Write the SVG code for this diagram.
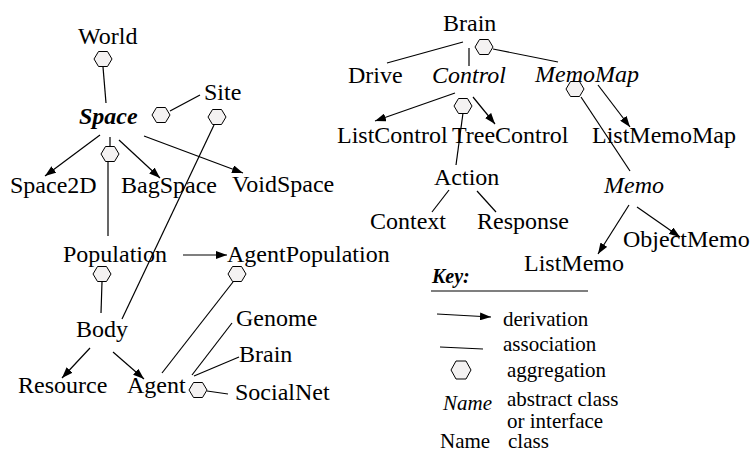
<svg xmlns="http://www.w3.org/2000/svg" xmlns:xlink="http://www.w3.org/1999/xlink" width="756" height="453" viewBox="0 0 756 453" font-family="'Liberation Serif', 'DejaVu Serif', serif">
<style>
text{font-family:'Liberation Serif','DejaVu Serif',serif;font-size:24px;fill:#000}
.it{font-style:italic}
.bi{font-style:italic;font-weight:bold}
.lg{font-size:21px}
.ln{stroke:#000;stroke-width:1.2;fill:none}
.ar{stroke:#000;stroke-width:1.2;fill:none;marker-end:url(#ah)}
.hx{fill:#f4f2f2;stroke:#000;stroke-width:1}
</style>
<defs>
<marker id="ah" markerUnits="userSpaceOnUse" markerWidth="12" markerHeight="8" refX="11" refY="4" orient="auto"><path d="M0,0 L11,4 L0,8 z" fill="#000"/></marker>
<polygon id="hex" points="-9,0 -4.5,-7.5 4.5,-7.5 9,0 4.5,7.5 -4.5,7.5"/>
</defs>
<g id="connectors">
<use xlink:href="#hex" class="hx" x="103" y="59"/>
<line class="ln" x1="103" y1="67" x2="106" y2="103"/>
<use xlink:href="#hex" class="hx" x="161" y="115"/>
<line class="ln" x1="170" y1="111" x2="200" y2="95"/>
<use xlink:href="#hex" class="hx" x="217" y="117"/>
<line class="ln" x1="214" y1="125" x2="122" y2="319"/>
<line class="ar" x1="100" y1="135" x2="45" y2="176"/>
<line class="ar" x1="119" y1="140" x2="160" y2="178"/>
<line class="ar" x1="144" y1="136" x2="243" y2="173"/>
<line class="ln" x1="110" y1="137" x2="110" y2="146"/>
<use xlink:href="#hex" class="hx" x="110" y="154"/>
<line class="ln" x1="108" y1="162" x2="108" y2="236"/>
<line class="ar" x1="183" y1="255" x2="227" y2="255"/>
<use xlink:href="#hex" class="hx" x="102" y="274"/>
<line class="ln" x1="102" y1="282" x2="101" y2="313"/>
<use xlink:href="#hex" class="hx" x="237" y="274"/>
<line class="ln" x1="233" y1="282" x2="162" y2="373"/>
<line class="ar" x1="90" y1="348" x2="62" y2="378"/>
<line class="ar" x1="113" y1="352" x2="144" y2="379"/>
<use xlink:href="#hex" class="hx" x="198" y="390"/>
<line class="ln" x1="207" y1="391" x2="228" y2="394"/>
<line class="ln" x1="192" y1="375" x2="232" y2="323"/>
<line class="ln" x1="194" y1="376" x2="239" y2="357"/>
<use xlink:href="#hex" class="hx" x="484" y="47"/>
<line class="ln" x1="493" y1="49" x2="558" y2="62"/>
<line class="ln" x1="463" y1="42" x2="387" y2="63"/>
<line class="ln" x1="469" y1="48" x2="469" y2="66"/>
<use xlink:href="#hex" class="hx" x="575" y="89"/>
<line class="ln" x1="581" y1="97" x2="630" y2="171"/>
<line class="ar" x1="598" y1="85" x2="630" y2="127"/>
<line class="ar" x1="455" y1="93" x2="375" y2="121"/>
<line class="ar" x1="473" y1="97" x2="495" y2="124"/>
<use xlink:href="#hex" class="hx" x="463" y="106"/>
<line class="ln" x1="463" y1="113" x2="456" y2="165"/>
<line class="ln" x1="449" y1="190" x2="432" y2="212"/>
<line class="ln" x1="477" y1="191" x2="496" y2="212"/>
<line class="ar" x1="629" y1="205" x2="598" y2="254"/>
<line class="ar" x1="637" y1="207" x2="680" y2="237"/>
</g>
<g id="n-world"><text x="78" y="44">World</text></g>
<g id="n-space"><text class="bi" x="79" y="124">Space</text></g>
<g id="n-site"><text x="204" y="100">Site</text></g>
<g id="n-space2d"><text x="10" y="193">Space2D</text></g>
<g id="n-bagspace"><text x="121" y="193">BagSpace</text></g>
<g id="n-voidspace"><text x="232" y="192">VoidSpace</text></g>
<g id="n-population"><text x="63" y="262">Population</text></g>
<g id="n-agentpopulation"><text x="227" y="262">AgentPopulation</text></g>
<g id="n-body"><text x="76" y="337">Body</text></g>
<g id="n-resource"><text x="18" y="393">Resource</text></g>
<g id="n-agent"><text x="127" y="393">Agent</text></g>
<g id="n-genome"><text x="236" y="326">Genome</text></g>
<g id="n-brain-left"><text x="239" y="362">Brain</text></g>
<g id="n-socialnet"><text x="235" y="400">SocialNet</text></g>
<g id="n-brain"><text x="443" y="31">Brain</text></g>
<g id="n-drive"><text x="348" y="83">Drive</text></g>
<g id="n-control"><text class="it" x="432" y="83">Control</text></g>
<g id="n-memomap"><text class="it" x="535" y="82">MemoMap</text></g>
<g id="n-listcontrol"><text x="337" y="143">ListControl</text></g>
<g id="n-treecontrol"><text x="452" y="143">TreeControl</text></g>
<g id="n-listmemomap"><text x="592" y="143">ListMemoMap</text></g>
<g id="n-action"><text x="434" y="185">Action</text></g>
<g id="n-memo"><text class="it" x="604" y="193">Memo</text></g>
<g id="n-context"><text x="370" y="229">Context</text></g>
<g id="n-response"><text x="477" y="229">Response</text></g>
<g id="n-objectmemo"><text x="623" y="247">ObjectMemo</text></g>
<g id="n-listmemo"><text x="524" y="271">ListMemo</text></g>
<g id="key">
<text class="bi" x="432" y="283" style="font-size:20px">Key:</text>
<line class="ln" x1="431" y1="291" x2="588" y2="291"/>
<line class="ar" x1="437" y1="314" x2="491" y2="317"/>
<text class="lg" x="503" y="326">derivation</text>
<line class="ln" x1="440" y1="347" x2="483" y2="349"/>
<text class="lg" x="503" y="351">association</text>
<polygon class="hx" points="451,370 456,361 466,361 471,370 466,379 456,379"/>
<text class="lg" x="507" y="377">aggregation</text>
<text class="lg it" x="443" y="410">Name</text>
<text class="lg" x="507" y="406">abstract class</text>
<text class="lg" x="507" y="428">or interface</text>
<text class="lg" x="440" y="448">Name</text>
<text class="lg" x="508" y="448">class</text>
</g>
</svg>
